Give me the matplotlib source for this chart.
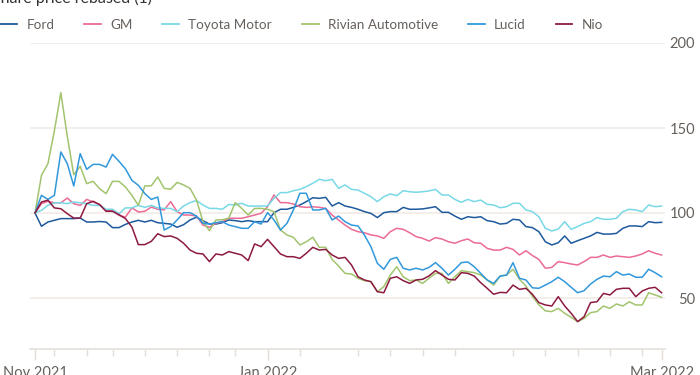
import numpy as np
import pandas as pd
import matplotlib
matplotlib.use("Agg")
import matplotlib.pyplot as plt
from matplotlib.lines import Line2D

# trading days, 10 Nov 2021 - 31 Mar 2022 (NYSE holidays removed)
holidays = ["2021-11-25", "2021-12-24", "2022-01-17", "2022-02-21"]
dates = pd.bdate_range("2021-11-10", "2022-03-31", freq="C", holidays=holidays)

series_names = ["Ford", "GM", "Toyota Motor", "Rivian Automotive", "Lucid", "Nio"]

ford = [100, 92.2, 94.7, 95.7, 96.7, 96.7, 96.7, 97, 94.7, 94.7, 95, 94.7, 91.4, 91.4, 93.3, 94.7, 95.7, 94.7, 95.7, 94.3,
        93.9, 93.5, 91.6, 93.1, 95.9, 97.5, 95.5, 93.5, 93.5, 94.3,
        95.9, 95.5, 94.9, 95.5, 94.9, 94.9, 94.9, 100.2, 102.2, 102.2, 103.3, 104.7, 106.7, 109, 108.6, 109.2, 104.1,
        106.1, 104.1, 103.3, 102.2, 100.8, 99.8, 97.3, 100.2, 100.8, 100.8,
        103.3, 102.2, 102.2, 102.4, 103, 103.7, 100.4, 100.4, 98.2, 96.3, 97.8, 97.3, 97.8, 95.5, 94.9, 93.5, 93.9,
        96.3, 95.9, 92, 91.4,
        89, 83.1, 81.2, 82.5, 86.5, 82.2, 83.7, 85.1, 86.5, 88.6, 87.6, 87.6, 88, 91, 92.4, 92.4, 92, 94.9, 94.3, 94.5]

gm = [100, 105.5, 106.9, 106, 106, 108.8, 105.5, 104.5, 108, 106.5, 105, 101.6, 101.6, 98.6, 97.6, 103, 100.6, 101, 103.5, 102.2,
      101.8, 106.7, 100.8, 98.8, 98.8, 98.2, 92.9, 91.6, 93.9, 94.9,
      96.9, 96.9, 96.9, 97.8, 98.8, 99.8, 103.7, 110.6, 106.1, 106.1, 105.3, 103.7, 103.3, 103.7, 103.3, 102.7, 98.8,
      95.9, 92.9, 90.4, 89, 88.4, 87.1, 86.5, 85.1, 89, 91,
      90.4, 88.4, 86.1, 85.1, 83.5, 85.5, 84.7, 83.1, 82.2, 83.7, 84.7, 82.5, 82.2, 79.2, 78.2, 78.2, 79.8, 78.6,
      75.3, 77.8, 75,
      72.7, 67.5, 68, 71.4, 70.8, 70, 69.4, 71.4, 73.9, 73.9, 75.3, 73.9, 74.7, 74.3, 73.9, 74.7, 75.9, 77.8, 76.3, 75.3]

toyota = [100, 101.6, 104.5, 106, 106, 105.5, 106.5, 106, 105.5, 104.5, 104.5, 102.2, 102.2, 99.6, 103, 103, 104.5, 103.3, 104.5, 103,
          102.7, 102.7, 100.8, 104.1, 106.1, 107.3, 104.7, 102.7, 102.7, 102.2,
          105, 104.7, 105.7, 104.1, 104.1, 104.1, 104.1, 108.6, 112, 112, 113.1, 113.9, 115.5, 117.5, 119.8, 119, 119.8,
          114.5, 116.5, 113.9, 113.5, 111.6, 109.6, 106.7, 109.6, 111.2, 110.2,
          113.1, 112.5, 112.2, 112.5, 113, 113.9, 110.6, 110.6, 108, 106.3, 108, 106.7, 107.6, 105.1, 104.7, 103.1, 103.7,
          105.7, 105.7, 101.8, 100.8,
          97.8, 91, 89.4, 90.6, 94.9, 90.4, 92, 93.9, 94.9, 97.3, 96.3, 96.3, 96.9, 100.8, 102.2, 101.8, 100.8, 104.7, 103.7, 104.1]

rivian = [100, 122.1, 129, 148.3, 170.8, 145, 122.5, 127.5, 117.3, 118.6, 114.3, 111.4, 118.6, 118.6, 115.3, 110.4, 104.5, 115.9, 116, 121.2,
          114.5, 114, 118, 116.5, 114.5, 107.6, 95, 89.6, 95.9, 96,
          97, 106.1, 102.7, 98.8, 102.7, 102.7, 102.2, 100.8, 90, 87.1, 85.7, 81.2, 83.1, 85.7, 79.8, 79.8, 72.7,
          68.8, 64.5, 64.1, 61.6, 60.2, 59.6, 53.7, 56.7, 63.5, 68.4,
          62.5, 60.2, 60.6, 58.6, 61.6, 64.5, 64.5, 58.6, 62.5, 66.1, 65.5, 64.9, 63.5, 60.6, 57.6, 62.9, 63.5, 66.9,
          61, 57, 51,
          46, 42.4, 42, 43.9, 41, 38.6, 36.1, 38, 41.4, 42, 45.3, 43.9, 46.5, 45.3, 47.8, 45.9, 45.9, 53.1, 51.8, 50.4]

lucid = [100, 110.4, 108, 110.4, 135.9, 129, 115.9, 134.9, 125.7, 128.6, 128.6, 127, 134.5, 130.4, 126, 119.2, 116.3, 111.4, 108, 109.4,
         90, 92, 95.9, 100.2, 100.2, 98.2, 93.9, 93.5, 94.3, 94.9,
         92.9, 92, 91, 91, 94.9, 93.5, 100.2, 95.9, 90, 93.9, 101.8, 111.6, 111.6, 101.8, 101.8, 102.7, 95.9,
         98.2, 94.9, 92.9, 92.4, 87, 80.2, 70.4, 66.9, 72.7, 73.9,
         67.5, 66.5, 67.5, 66.5, 68, 70.8, 67.5, 63.5, 66.9, 70.8, 71.2, 68.4, 64.5, 60.6, 58.6, 62.9, 63.5, 70.8,
         61.6, 60.6, 56,
         55.7, 57.6, 59.6, 62.2, 59.6, 56.3, 53.1, 54.3, 58.2, 61, 62.9, 62.5, 65.5, 63.5, 64.1, 62.2, 62.2, 66.9, 64.9, 62.5]

nio = [100, 106.5, 107.5, 103, 102.5, 99.6, 97, 97, 105.5, 106.9, 104.9, 101, 101, 99, 96.7, 91.8, 81.4, 81.4, 83.3, 87.8,
       86.1, 86.5, 85.1, 82.2, 78.2, 76.3, 75.9, 71.4, 75.9, 75.3,
       77.3, 76.3, 75.3, 72, 81.8, 80.2, 84.5, 80.2, 75.9, 74.3, 74.3, 73.3, 76.3, 79.8, 78.2, 78.6, 75.3,
       73.3, 73.9, 69.4, 62.5, 60.6, 59.6, 53.7, 53.1, 61.6, 62.5,
       60.2, 58.6, 60.6, 61, 63, 66.1, 63.5, 61, 60.6, 64.9, 64.5, 62.9, 59, 55.7, 52.2, 53.3, 53.1, 57.6,
       55.1, 55.7, 52.2,
       47.3, 45.9, 45.3, 50.8, 45.3, 41, 36.1, 39, 47.3, 47.8, 52.7, 51.8, 55.1, 55.7, 55.7, 50.8, 54.1, 55.7, 56.3, 53.1]

colors = ["#1e5a9c", "#eb6b94", "#78d9e6", "#a2c46e", "#3198dc", "#8c1a40"]
y_ticks = [50, 100, 150, 200]
x_labels = ["Nov 2021", "Jan 2022", "Mar 2022"]

text_col = "#66605c"
grid_col = "#f3ede8"
axis_col = "#e4dfda"

plt.rcParams["font.family"] = ["Lato", "DejaVu Sans"]

fig = plt.figure(figsize=(7, 3.75), dpi=100)
ax = fig.add_axes([30 / 700, 1 - 349 / 375, 635 / 700, 306 / 375])

x = np.arange(len(dates))
for name, vals, c in zip(series_names, [ford, gm, toyota, rivian, lucid, nio], colors):
    ax.plot(x, vals, color=c, lw=1.1, label=name, solid_joinstyle="round")

ax.set_ylim(20, 200)
ax.set_xlim(-5 / 6.46, len(dates) - 1 + 3.4 / 6.46)

ax.set_yticks(y_ticks)
ax.yaxis.tick_right()
ax.tick_params(axis="y", length=0, pad=21.6, labelsize=10.5, labelcolor=text_col)
for t in ax.get_yticklabels():
    t.set_horizontalalignment("right")
ax.grid(axis="y", color=grid_col, lw=1.3)
ax.set_axisbelow(True)

# weekly ticks on Mondays, labels at start, new year and end
mondays = [i for i, d in enumerate(dates) if d.weekday() == 0]
ax.set_xticks(mondays, minor=True)
jan_i = int(np.where(dates == pd.Timestamp("2022-01-03"))[0][0])
ax.set_xticks([0, jan_i, len(dates) - 1])
ax.set_xticklabels(x_labels)
ax.tick_params(axis="x", which="major", length=8, width=1, color=axis_col,
               labelsize=10.5, labelcolor=text_col, pad=4)
ax.tick_params(axis="x", which="minor", length=5, width=1, color=axis_col)

for s in ["top", "left", "right"]:
    ax.spines[s].set_visible(False)
ax.spines["bottom"].set_color(axis_col)
ax.spines["bottom"].set_linewidth(1.2)

handles = [Line2D([0], [0], color=c, lw=1.3) for c in colors]
fig.legend(handles, series_names, loc="center left", bbox_to_anchor=(0.0, 1 - 25 / 375),
           ncol=6, frameon=False, fontsize=9.7, labelcolor=text_col,
           handlelength=1.25, handletextpad=0.7, columnspacing=2.2,
           borderpad=0, borderaxespad=0)

fig.text(-0.012, 1 - 3 / 375, "Share price rebased (1)", fontsize=11.5, color="#33302e",
         va="baseline", ha="left")

fig.savefig("out.png", dpi=100)
